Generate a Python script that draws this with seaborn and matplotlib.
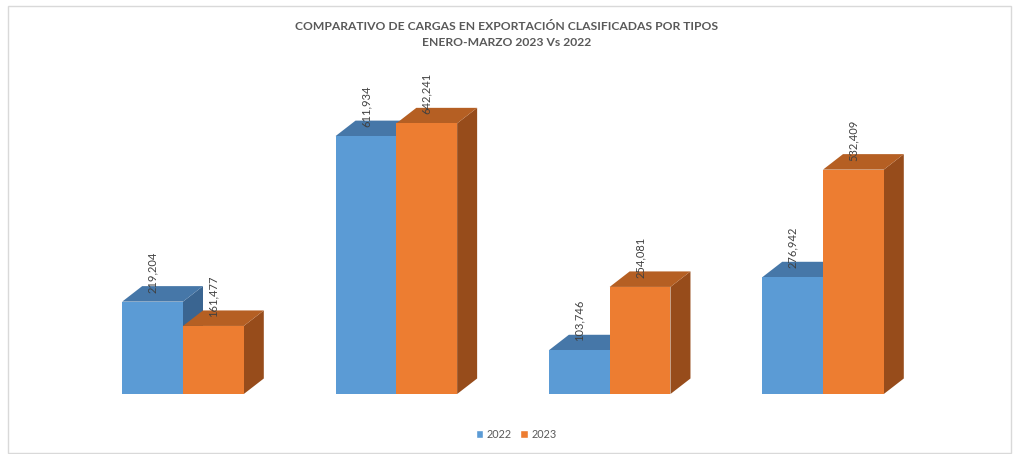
"""
Comparativo de cargas en exportacion clasificadas por tipos, Enero-Marzo 2023 vs 2022.
Barras con efecto 3D al estilo Excel.
"""

import pandas as pd
import matplotlib.pyplot as plt
import seaborn as sns
from matplotlib.patches import Polygon, Rectangle

# Datos
CATEGORIAS = ["Tipo 1", "Tipo 2", "Tipo 3", "Tipo 4"]
ANIOS = ["2022", "2023"]
VALORES_2022 = [219204, 611934, 103746, 276942]
VALORES_2023 = [161477, 642241, 254081, 532409]

TITULO_1 = "COMPARATIVO DE CARGAS EN EXPORTACIÓN CLASIFICADAS POR TIPOS"
TITULO_2 = "ENERO-MARZO 2023 Vs 2022"

# Colores: frente, tapa, lateral
COLORES = {
    "2022": ("#5B9BD5", "#4677A8", "#3A6591"),
    "2023": ("#ED7D31", "#B55F23", "#974C1B"),
}
GRIS = "#595959"
FUENTE = ["Lato", "DejaVu Sans"]


def build_df():
    rows = []
    for cat, v22, v23 in zip(CATEGORIAS, VALORES_2022, VALORES_2023):
        rows.append({"tipo": cat, "anio": "2022", "valor": v22})
        rows.append({"tipo": cat, "anio": "2023", "valor": v23})
    return pd.DataFrame(rows)


def main():
    df = build_df()
    sns.set_style("white")
    plt.rcParams["font.family"] = FUENTE

    W, H = 1013, 454
    fig = plt.figure(figsize=(W / 100, H / 100), dpi=100)

    # area de las barras (en pixeles)
    left_px, right_px = 55, 951
    bottom_px, top_px = 60, 355
    ax = fig.add_axes([left_px / W, bottom_px / H,
                       (right_px - left_px) / W, (top_px - bottom_px) / H])

    palette = {a: COLORES[a][0] for a in ANIOS}
    sns.barplot(data=df, x="tipo", y="valor", hue="anio", hue_order=ANIOS,
                palette=palette, width=0.57, saturation=1, ax=ax,
                legend=False, linewidth=0)

    ax.set_xlim(-0.6, 3.6)
    ax.set_ylim(0, 700000)
    ax.set_axis_off()

    # profundidad 3D en unidades de datos
    inv = ax.transData.inverted()
    x0, y0 = inv.transform((0, 0))
    x1, y1 = inv.transform((20, 15.5))
    dx, dy = x1 - x0, y1 - y0

    bars = [p for p in ax.patches if isinstance(p, Rectangle)]
    n = len(CATEGORIAS)
    for i, bar in enumerate(bars[:2 * n]):
        anio = ANIOS[i // n]
        frente, tapa, lado = COLORES[anio]
        z = 2 + (i // n) * 3
        bx, bw, bh = bar.get_x(), bar.get_width(), bar.get_height()
        bar.set_zorder(z + 2)
        bar.set_clip_on(False)

        lateral = Polygon([(bx + bw, 0), (bx + bw + dx, dy),
                           (bx + bw + dx, bh + dy), (bx + bw, bh)],
                          closed=True, facecolor=lado, edgecolor="none",
                          zorder=z, clip_on=False)
        superior = Polygon([(bx, bh), (bx + bw, bh),
                            (bx + bw + dx, bh + dy), (bx + dx, bh + dy)],
                           closed=True, facecolor=tapa, edgecolor="none",
                           zorder=z + 1, clip_on=False)
        ax.add_patch(lateral)
        ax.add_patch(superior)

        ax.annotate(f"{int(round(bh)):,}", (bx + bw / 2, bh),
                    xytext=(0, 6.5), textcoords="offset points",
                    rotation=90, ha="center", va="bottom",
                    fontsize=8, color="#404040", zorder=20,
                    annotation_clip=False)

    # titulo
    fig.text(0.5, 1 - 26 / H, TITULO_1, ha="center", va="center",
             fontsize=8.7, fontweight="bold", color=GRIS)
    fig.text(0.5, 1 - 43 / H, TITULO_2, ha="center", va="center",
             fontsize=8.7, fontweight="bold", color=GRIS)

    # leyenda
    handles = [Rectangle((0, 0), 1, 1, facecolor=COLORES[a][0]) for a in ANIOS]
    fig.legend(handles, ANIOS, loc="center", bbox_to_anchor=(516 / W, 1 - 434 / H),
               ncol=2, frameon=False, fontsize=7.8, handlelength=0.7,
               handleheight=0.7, handletextpad=0.3, columnspacing=0.8,
               labelcolor=GRIS)

    # borde del grafico
    fig.patches.append(Rectangle((8 / W, 1 / H), 1003 / W, 447 / H,
                                 transform=fig.transFigure, fill=False,
                                 edgecolor="#D9D9D9", linewidth=1))

    fig.savefig("out.png", dpi=100)
    plt.close(fig)


if __name__ == "__main__":
    main()
